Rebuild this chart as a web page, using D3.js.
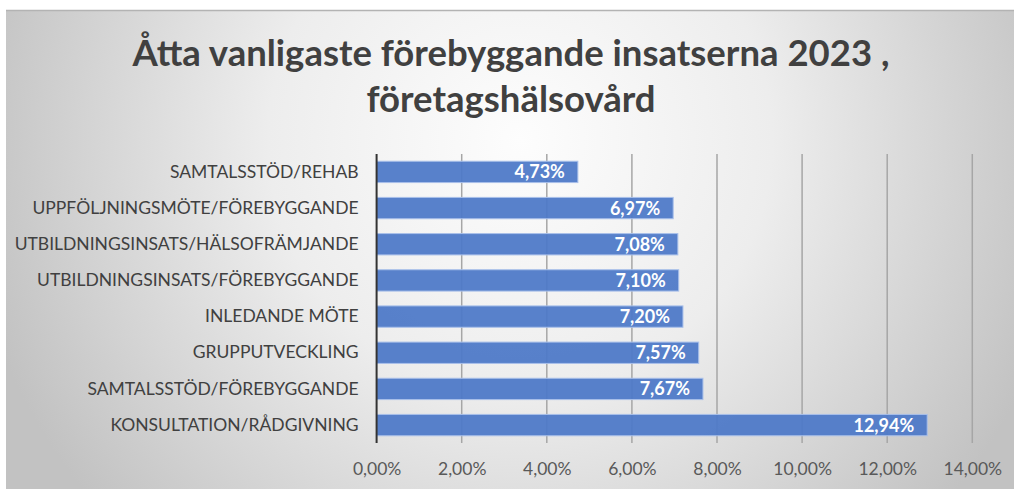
<!DOCTYPE html>
<html>
<head>
<meta charset="utf-8">
<style>
  body { margin: 0; background: #fff; }
  svg text { font-family: Lato, "Open Sans", sans-serif; }
</style>
</head>
<body>
<div id="chart"></div>
<script src="https://d3js.org/d3.v7.min.js"></script>
<script>
const categories = [
  'SAMTALSSTÖD/REHAB',
  'UPPFÖLJNINGSMÖTE/FÖREBYGGANDE',
  'UTBILDNINGSINSATS/HÄLSOFRÄMJANDE',
  'UTBILDNINGSINSATS/FÖREBYGGANDE',
  'INLEDANDE MÖTE',
  'GRUPPUTVECKLING',
  'SAMTALSSTÖD/FÖREBYGGANDE',
  'KONSULTATION/RÅDGIVNING'
];
const values = [4.73, 6.97, 7.08, 7.10, 7.20, 7.57, 7.67, 12.94];
const ticks = [0, 2, 4, 6, 8, 10, 12, 14];
const titleLines = ['Åtta vanligaste förebyggande insatserna 2023 ,', 'företagshälsovård'];

const W = 1014, H = 489;
const fmt = v => v.toFixed(2).replace('.', ',') + '%';

const svg = d3.select('#chart').append('svg')
  .attr('width', W)
  .attr('height', H);

// background
const defs = svg.append('defs');
const grad = defs.append('radialGradient')
  .attr('id', 'bg')
  .attr('gradientUnits', 'userSpaceOnUse')
  .attr('cx', 520).attr('cy', 140).attr('r', 560);
grad.append('stop').attr('offset', '0%').attr('stop-color', '#fdfdfd');
grad.append('stop').attr('offset', '45%').attr('stop-color', '#ededed');
grad.append('stop').attr('offset', '100%').attr('stop-color', '#c2c2c2');

svg.append('rect')
  .attr('x', 6).attr('y', 10)
  .attr('width', W - 6).attr('height', H - 10)
  .attr('fill', 'url(#bg)');
svg.append('line')
  .attr('x1', 6).attr('x2', W)
  .attr('y1', 10.5).attr('y2', 10.5)
  .attr('stroke', '#b3b3b3').attr('stroke-width', 1.5);

// title
svg.append('g').selectAll('text')
  .data(titleLines)
  .join('text')
  .attr('x', 511)
  .attr('y', (d, i) => 66 + i * 46)
  .attr('text-anchor', 'middle')
  .attr('font-size', 36.5)
  .attr('font-weight', 'bold')
  .attr('fill', '#404040')
  .text(d => d);

const margin = { left: 376.6, right: 1014 - 972.3, top: 154, bottom: 489 - 443 };

const x = d3.scaleLinear()
  .domain([0, 14])
  .range([margin.left, W - margin.right]);

const y = d3.scaleBand()
  .domain(categories)
  .range([margin.top, H - margin.bottom])
  .paddingInner(0.41)
  .paddingOuter(0.2);

// gridlines
svg.append('g').selectAll('line')
  .data(ticks.slice(1))
  .join('line')
  .attr('x1', d => x(d)).attr('x2', d => x(d))
  .attr('y1', margin.top).attr('y2', H - margin.bottom)
  .attr('stroke', '#a6a6a6')
  .attr('stroke-width', 1.5);

// bars
svg.append('g').selectAll('rect')
  .data(values)
  .join('rect')
  .attr('x', x(0))
  .attr('y', (d, i) => y(categories[i]))
  .attr('width', d => x(d) - x(0))
  .attr('height', y.bandwidth())
  .attr('fill', '#4e79c8')
  .attr('fill-opacity', 0.94)
  .attr('stroke', '#a9c0ea')
  .attr('stroke-width', 1);

// value labels
svg.append('g').selectAll('text')
  .data(values)
  .join('text')
  .attr('x', d => x(d) - 13)
  .attr('y', (d, i) => y(categories[i]) + y.bandwidth() / 2)
  .attr('dy', '0.36em')
  .attr('text-anchor', 'end')
  .attr('font-size', 18)
  .attr('font-weight', 'bold')
  .attr('fill', '#ffffff')
  .text(d => fmt(d));

// category axis
const yAxis = svg.append('g')
  .attr('transform', `translate(${x(0)},0)`)
  .call(d3.axisLeft(y).tickSize(0).tickPadding(18));
yAxis.select('.domain')
  .attr('stroke', '#333')
  .attr('stroke-width', 2)
  .attr('d', `M0,${margin.top}V${H - margin.bottom}`);
yAxis.selectAll('text')
  .attr('font-size', 17.5)
  .attr('fill', '#404040')
  .style('font-family', 'Lato, "Open Sans", sans-serif');

// value axis
const xAxis = svg.append('g')
  .attr('transform', `translate(0,${H - margin.bottom})`)
  .call(d3.axisBottom(x).tickValues(ticks).tickFormat(fmt).tickSize(0).tickPadding(20));
xAxis.select('.domain').remove();
xAxis.selectAll('text')
  .attr('font-size', 17.5)
  .attr('fill', '#595959')
  .style('font-family', 'Lato, "Open Sans", sans-serif');
</script>
</body>
</html>
